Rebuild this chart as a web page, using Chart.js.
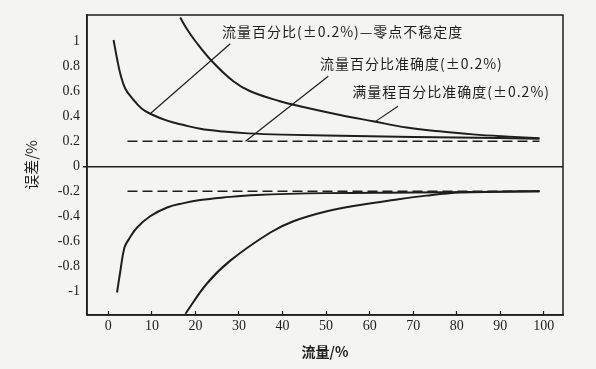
<!DOCTYPE html>
<html><head><meta charset="utf-8">
<script src="https://cdn.jsdelivr.net/npm/chart.js@4/dist/chart.umd.min.js"></script>
<style>html,body{margin:0;padding:0;background:#f4f4f3;}canvas{display:block;}</style>
</head><body>
<canvas id="c" width="596" height="369"></canvas>
<script>
// ---- data ----
const xTicks = [0,10,20,30,40,50,60,70,80,90,100];
const yTicks = [-1,-0.8,-0.6,-0.4,-0.2,0,0.2,0.4,0.6,0.8,1];
const yTickLabels = ['-1','-0.8','-0.6','-0.4','-0.2','0','0.2','0.4','0.6','0.8','1'];

// 满量程百分比准确度 (upper / lower)
const fullScaleUpX = [16.5,18,20,23.8,28.7,32.6,39.4,44,53.2,60.8,68.5,76,83.7,92,99];
const fullScaleUpY = [1.19,1.10,1.00,0.84,0.68,0.60,0.52,0.48,0.41,0.36,0.31,0.28,0.255,0.237,0.225];
const fullScaleLoX = [17.7,22.6,28,37.2,42.5,50.2,57.8,65.4,73,80.7,90,99];
const fullScaleLoY = [-1.18,-0.94,-0.755,-0.53,-0.44,-0.36,-0.31,-0.27,-0.235,-0.21,-0.205,-0.20];

// 流量百分比 + 零点不稳定度 (upper / lower)
const zeroUpX = [1.2,2.0,2.75,3.9,5.8,7.7,9.6,13.5,17.3,21.1,26.4,32,40,60,80,99];
const zeroUpY = [1.01,0.86,0.74,0.62,0.53,0.46,0.42,0.365,0.33,0.30,0.278,0.263,0.253,0.24,0.23,0.22];
const zeroLoX = [2.0,2.75,3.7,4.7,6.6,9.6,13.5,17.3,21.1,26.4,34,50,70,85,99];
const zeroLoY = [-1.01,-0.84,-0.65,-0.585,-0.49,-0.40,-0.33,-0.295,-0.27,-0.25,-0.23,-0.215,-0.21,-0.205,-0.20];

// 流量百分比准确度 (constant)
const flowAccX = [4.4,99];
const flowAccUpY = [0.2,0.2];
const flowAccLoY = [-0.2,-0.2];

const noteTexts = ['流量百分比(±0.2%)—零点不稳定度','流量百分比准确度(±0.2%)','满量程百分比准确度(±0.2%)'];
// ---- end data ----

const pts = (xs, ys) => xs.map((x,i)=>({x, y: ys[i]}));
const INK = '#1e1e1e';
const noteLayout = [
  {at:[26.1,1.08], from:[28,0.98], to:[9.6,0.42]},
  {at:[48.6,0.82], from:[50.5,0.72], to:[31.5,0.20]},
  {at:[56,0.60],  from:[66.5,0.48], to:[61.2,0.355]}
];

const solid = (data) => ({data, borderColor: INK, borderWidth: 2, pointRadius: 0, showLine: true, tension: 0.4, fill: false});
const dashed = (data) => ({data, borderColor: INK, borderWidth: 1.5, borderDash: [10,5], pointRadius: 0, showLine: true, fill: false});

const frame = {
  id: 'frame',
  afterDatasetsDraw(chart) {
    const {ctx, chartArea: a, scales: {x, y}} = chart;
    ctx.save();
    ctx.strokeStyle = INK; ctx.lineWidth = 1.5;
    ctx.strokeRect(a.left, a.top, a.right - a.left, a.bottom - a.top);
    ctx.lineWidth = 1.2;
    ctx.fillStyle = INK;
    ctx.font = '14px "Noto Sans CJK SC"';
    ctx.textBaseline = 'middle';
    ctx.textAlign = 'left';
    try { ctx.letterSpacing = '1px'; } catch(e) {}
    noteLayout.forEach((n, i) => {
      ctx.beginPath();
      ctx.moveTo(x.getPixelForValue(n.from[0]), y.getPixelForValue(n.from[1]));
      ctx.lineTo(x.getPixelForValue(n.to[0]), y.getPixelForValue(n.to[1]));
      ctx.stroke();
      ctx.fillText(noteTexts[i], x.getPixelForValue(n.at[0]), y.getPixelForValue(n.at[1]));
    });
    ctx.restore();
  }
};

new Chart(document.getElementById('c'), {
  type: 'scatter',
  data: {
    datasets: [
      solid(pts(fullScaleUpX, fullScaleUpY)),
      solid(pts(fullScaleLoX, fullScaleLoY)),
      solid(pts(zeroUpX, zeroUpY)),
      solid(pts(zeroLoX, zeroLoY)),
      dashed(pts(flowAccX, flowAccUpY)),
      dashed(pts(flowAccX, flowAccLoY))
    ]
  },
  options: {
    responsive: false,
    animation: false,
    layout: {padding: {left: 0, right: 33, top: 15, bottom: 0}},
    plugins: {legend: {display: false}, tooltip: {enabled: false}},
    scales: {
      x: {
        type: 'linear', min: -4.9, max: 104.4,
        afterBuildTicks: s => { s.ticks = xTicks.map(v => ({value: v})); },
        afterFit: s => { s.height = 54; },
        ticks: {color: INK, font: {family: '"Liberation Serif"', size: 14}, padding: 7, maxRotation: 0, autoSkip: false},
        grid: {drawOnChartArea: false, drawTicks: true, tickLength: -4, tickColor: INK, tickWidth: 1.2},
        border: {display: true, color: INK, width: 1.5},
        title: {display: true, text: '流量/%', color: INK, font: {family: '"Noto Sans CJK SC"', size: 14, weight: 'bold'}, padding: {top: 0, bottom: 9}}
      },
      y: {
        type: 'linear', min: -1.19, max: 1.21,
        afterBuildTicks: s => { s.ticks = yTicks.map(v => ({value: v})); },
        afterFit: s => { s.width = 87; },
        ticks: {color: INK, font: {family: '"Liberation Serif"', size: 14}, padding: 3, autoSkip: false,
          callback: (v) => { const i = yTicks.findIndex(t => Math.abs(t - v) < 1e-9); return i >= 0 ? yTickLabels[i] : ''; }},
        grid: {drawTicks: true, tickLength: 4, tickColor: INK,
          color: c => (c.tick && Math.abs(c.tick.value) < 1e-9) ? INK : 'rgba(0,0,0,0)',
          lineWidth: c => (c.tick && Math.abs(c.tick.value) < 1e-9) ? 1.5 : 0},
        border: {display: true, color: INK, width: 1.5},
        title: {display: true, text: '误差/%', color: INK, font: {family: '"Noto Sans CJK SC"', size: 15}, padding: {top: 22, bottom: 0}}
      }
    }
  },
  plugins: [frame]
});
</script>
</body></html>
